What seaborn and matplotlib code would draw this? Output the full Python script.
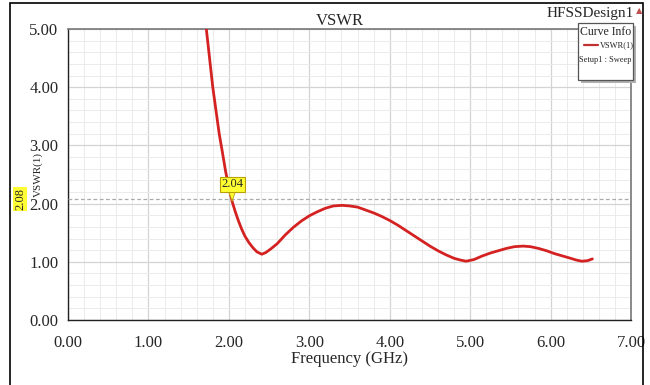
import matplotlib
matplotlib.use("Agg")
import matplotlib.pyplot as plt
from matplotlib.ticker import MultipleLocator, FormatStrFormatter
from matplotlib.patches import Rectangle
import seaborn as sns
import pandas as pd

freq = [1.70, 1.72, 1.76, 1.80, 1.84, 1.88, 1.92, 1.96, 2.00, 2.04, 2.08, 2.12,
        2.16, 2.20, 2.25, 2.30, 2.35, 2.41, 2.46, 2.52, 2.60, 2.70, 2.80, 2.90,
        3.00, 3.10, 3.20, 3.30, 3.41, 3.50, 3.60, 3.70, 3.80, 3.90, 4.00, 4.10,
        4.20, 4.30, 4.40, 4.50, 4.60, 4.70, 4.80, 4.88, 4.95, 5.05, 5.15, 5.25,
        5.35, 5.45, 5.55, 5.66, 5.75, 5.85, 5.95, 6.05, 6.15, 6.25, 6.32, 6.39,
        6.46, 6.52]
vswr = [5.25, 5.00, 4.50, 4.00, 3.60, 3.20, 2.88, 2.55, 2.28, 2.04, 1.86, 1.70,
        1.56, 1.44, 1.33, 1.24, 1.17, 1.13, 1.16, 1.22, 1.31, 1.46, 1.59, 1.70,
        1.79, 1.86, 1.92, 1.96, 1.97, 1.96, 1.94, 1.89, 1.84, 1.78, 1.71, 1.63,
        1.54, 1.45, 1.36, 1.27, 1.19, 1.12, 1.06, 1.03, 1.01, 1.04, 1.10, 1.15,
        1.19, 1.23, 1.26, 1.27, 1.26, 1.23, 1.19, 1.14, 1.10, 1.06, 1.03, 1.01,
        1.02, 1.05]
marker_x = 2.04
marker_label = "2.04"
hline_y = 2.08
hline_label = "2.08"
title = "VSWR"
xlabel = "Frequency (GHz)"
ylabel = "VSWR(1)"
design = "HFSSDesign1"
legend_title = "Curve Info"
legend_entry = "VSWR(1)"
legend_sub = "Setup1 : Sweep"

sns.set_theme(style="white")
plt.rcParams['font.family'] = ['Liberation Serif', 'DejaVu Serif']

df = pd.DataFrame({"freq": freq, "vswr": vswr})

fig = plt.figure(figsize=(6.5, 3.85), dpi=100)
ax = fig.add_axes([0.1046, 0.1688, 0.8662, 0.7559])

sns.lineplot(data=df, x="freq", y="vswr", ax=ax, color="#d42222", linewidth=2.0,
             zorder=5, estimator=None, sort=False)

ax.set_xlim(0, 7)
ax.set_ylim(0, 5)
ax.xaxis.set_major_locator(MultipleLocator(1))
ax.xaxis.set_minor_locator(MultipleLocator(0.2))
ax.yaxis.set_major_locator(MultipleLocator(1))
ax.yaxis.set_minor_locator(MultipleLocator(0.2))
ax.xaxis.set_major_formatter(FormatStrFormatter("%.2f"))
ax.yaxis.set_major_formatter(FormatStrFormatter("%.2f"))
ax.grid(which="major", color="#d4d4d4", linewidth=0.9)
ax.grid(which="minor", color="#ebebeb", linewidth=0.7)
ax.set_axisbelow(True)

ax.tick_params(axis="both", which="major", labelsize=12, length=5, width=0.8,
               color="#333333", direction="out", pad=2)
ax.tick_params(axis="both", which="minor", length=4, width=0.8, color="#555555",
               direction="in")
ax.tick_params(axis="x", which="major", pad=6)
for s in ["left", "bottom"]:
    ax.spines[s].set_color("#222222")
    ax.spines[s].set_linewidth(1.0)
for s in ["top", "right"]:
    ax.spines[s].set_color("#777777")
    ax.spines[s].set_linewidth(1.2)

ax.set_xlabel(xlabel, fontsize=12, labelpad=0)
ax.set_ylabel(ylabel, fontsize=8)
ax.yaxis.set_label_coords(-0.044, 0.5)
ax.set_title(title, fontsize=12, pad=3, x=0.483)

# horizontal marker line
ax.axhline(hline_y, color="#aaaaaa", linestyle=(0, (3, 2)), linewidth=0.9, zorder=3)
ax.annotate(hline_label, xy=(0, hline_y), xycoords=("figure fraction", "data"),
            xytext=(20 / 650, hline_y), textcoords=("figure fraction", "data"),
            rotation=90, ha="center", va="center", fontsize=9,
            bbox=dict(boxstyle="square,pad=0.1", fc="#ffff33", ec="none"))

# point marker
ax.annotate(marker_label, xy=(marker_x, vswr[freq.index(marker_x)]),
            xytext=(0, 8), textcoords="offset points", ha="center", va="bottom",
            fontsize=9, zorder=10,
            bbox=dict(boxstyle="square,pad=0.12", fc="#ffff33", ec="#b8a000", lw=0.8),
            arrowprops=dict(arrowstyle="wedge,tail_width=0.5", fc="#ffff33",
                            ec="#b8a000", lw=0.6, shrinkA=0, shrinkB=0))

# design name
fig.text(634 / 650, 1 - 13 / 385, design, ha="right", va="center", fontsize=11)
fig.text(639 / 650, 1 - 11 / 385, "\u25b2", ha="center", va="center", fontsize=6,
         color="#c05050", family=["DejaVu Sans"])

# legend box
lx0, ly0, lx1, ly1 = 578 / 650, 1 - 80 / 385, 633 / 650, 1 - 23 / 385
fig.patches.append(Rectangle((lx0 + 3 / 650, ly0 - 3 / 385), lx1 - lx0, ly1 - ly0,
                             transform=fig.transFigure, fc="#b0b0b0", ec="none",
                             zorder=8))
fig.patches.append(Rectangle((lx0, ly0), lx1 - lx0, ly1 - ly0,
                             transform=fig.transFigure, fc="white", ec="#555555",
                             lw=0.9, zorder=9))
fig.text((lx0 + lx1) / 2, 1 - 32 / 385, legend_title, ha="center", va="center",
         fontsize=8.5, zorder=10)
fig.lines.append(plt.Line2D([584 / 650, 598 / 650], [1 - 45 / 385, 1 - 45 / 385],
                            transform=fig.transFigure, color="#c03030", lw=1.6,
                            zorder=10))
fig.text(600 / 650, 1 - 45 / 385, legend_entry, ha="left", va="center", fontsize=6,
         zorder=10)
fig.text((lx0 + lx1) / 2, 1 - 60 / 385, legend_sub, ha="center", va="center",
         fontsize=6, zorder=10)

# outer frame
fig.patches.append(Rectangle((10 / 650, -0.01), 633 / 650, 1 - 3 / 385 + 0.01,
                             transform=fig.transFigure, fill=False, ec="black",
                             lw=1.2, zorder=1))

fig.savefig("out.png", dpi=100)
